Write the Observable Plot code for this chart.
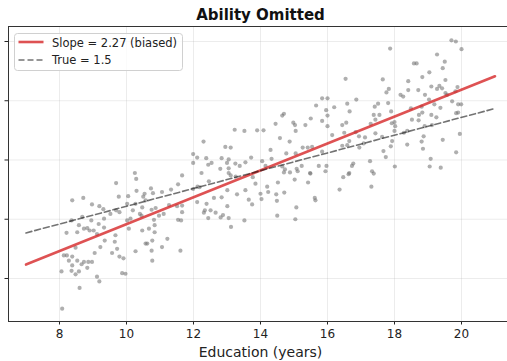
<!DOCTYPE html>
<html><head><meta charset="utf-8">
<script src="https://cdn.jsdelivr.net/npm/d3@7"></script>
<script src="https://cdn.jsdelivr.net/npm/@observablehq/plot@0.6"></script>
<style>
body{margin:0;background:#fff;font-family:"DejaVu Sans",sans-serif;}
#wrap{position:relative;width:507px;height:361px;overflow:hidden;}
#title{position:absolute;left:0;width:521px;top:6px;text-align:center;font-weight:bold;font-size:15px;color:#111;white-space:nowrap;}
#xlabel{position:absolute;left:0;width:521px;top:344px;text-align:center;font-size:14px;color:#222;white-space:nowrap;}
#legend{position:absolute;left:14px;top:33px;}
</style>
</head><body>
<div id="wrap">
  <div id="chart"></div>
  <div id="title">Ability Omitted</div>
  <div id="xlabel">Education (years)</div>
  <svg id="legend" width="170" height="39"></svg>
</div>
<script>
// ---- data ----
const eduX = [
10.25,10.29,11.66,9.69,8.38,8.71,8.97,9.19,9.31,9.77,10.05,10.30,10.02,10.19,10.54,10.50,10.73,10.79,11.06,11.33,11.54,11.99,12.12,10.57,10.27,10.40,10.75,10.87,10.45,10.12,10.82,10.97,11.11,11.27,11.51,11.66,11.66,11.54,11.63,9.79,9.52,9.69,9.33,9.17,8.95,8.83,8.90,8.36,8.68,8.58,8.21,8.53,8.73,9.02,9.12,9.33,10.02,10.07,10.47,10.67,10.84,10.84,9.67,9.65,9.35,9.22,9.05,9.57,9.72,9.79,9.91,10.27,10.57,10.62,10.77,11.22,11.06,11.61,10.75,10.77,8.13,8.28,8.38,8.48,8.53,8.66,8.73,8.86,8.97,8.83,8.38,8.36,8.48,8.58,9.12,9.19,8.60,8.06,8.08,9.87,9.97,8.22,10.47,
11.99,12.11,11.99,
16.54,15.84,16.00,15.66,15.96,16.20,16.59,14.65,14.70,14.45,14.98,15.03,15.34,15.50,15.84,16.00,16.00,16.44,16.56,15.05,16.14,16.50,13.23,13.52,13.90,14.09,14.58,14.87,12.30,12.95,13.11,12.38,12.84,13.05,13.72,14.30,14.77,15.05,15.26,15.41,15.54,15.84,16.44,16.59,16.65,12.54,12.44,12.80,13.00,13.05,13.25,13.38,13.55,14.05,14.33,14.15,14.65,14.73,15.08,15.23,15.48,15.74,15.97,16.65,12.24,13.05,
12.46,13.11,13.26,13.77,13.85,14.20,14.52,14.70,14.88,15.02,15.11,15.42,15.49,15.94,16.47,16.63,16.36,12.11,12.39,12.61,12.84,13.01,13.01,13.30,13.55,13.65,13.75,14.00,14.03,14.23,14.47,14.49,14.71,15.07,15.62,15.64,12.34,12.31,12.51,12.66,12.44,12.81,12.88,13.05,13.12,13.52,14.50,15.04,12.18,
19.70,19.83,20.00,17.87,19.27,18.58,18.66,19.50,19.44,19.04,18.83,17.65,18.41,19.52,17.83,17.76,18.41,18.71,19.10,19.27,19.34,19.42,19.52,19.57,19.88,19.82,18.91,19.03,18.18,18.26,16.86,17.81,17.51,17.41,19.72,19.90,19.99,19.37,19.19,18.49,18.81,18.83,18.73,19.10,19.25,19.84,19.90,17.90,17.55,17.38,16.66,17.29,17.43,17.92,18.02,18.00,18.52,18.72,18.90,19.12,18.38,18.28,16.84,16.94,17.12,17.43,17.63,17.93,18.00,18.87,19.44,19.95,18.38,18.81,18.85,17.08,16.95,17.67,17.89,17.74,17.27,18.01,16.77,16.73,17.33,17.38,19.08,19.05,19.38,19.84,
17.31
];
const wageY = [
37.8,36.8,37.4,36.1,33.2,33.6,32.5,32.2,31.7,33.8,33.9,34.8,32.6,31.5,34.3,33.8,35.2,34.4,34.6,35.0,35.9,35.1,35.5,33.2,32.6,30.9,31.6,31.9,30.6,30.1,29.9,30.6,30.9,32.4,32.2,32.3,31.2,29.9,29.8,31.2,30.9,31.5,30.1,29.2,29.8,28.5,28.1,29.8,30.4,29.0,27.7,27.8,28.4,28.1,27.5,28.6,29.8,28.4,28.1,28.4,29.0,27.8,27.3,26.2,26.4,25.3,24.3,24.3,25.0,23.7,23.4,24.6,25.9,25.9,26.4,26.7,25.3,24.7,24.7,23.0,23.9,23.0,23.7,25.2,23.0,22.4,22.8,22.8,22.8,21.8,22.2,21.3,20.7,21.2,20.3,19.5,18.4,21.2,14.9,20.9,20.8,23.9,32.0,
41.0,40.4,39.5,
53.7,50.4,50.4,49.2,48.4,48.9,49.5,47.5,47.8,46.1,46.3,45.9,45.9,47.0,46.6,47.5,45.7,45.9,46.3,44.9,44.2,44.6,45.1,44.9,45.0,45.0,43.7,43.1,43.1,42.2,42.1,40.3,40.3,40.1,40.4,41.7,41.1,41.1,42.1,42.1,42.2,41.4,42.4,42.5,43.2,39.5,39.2,38.5,39.5,38.6,39.4,39.0,39.6,39.8,40.2,39.0,38.9,38.4,38.5,39.0,37.8,39.0,39.0,37.8,37.8,37.8,
36.4,37.4,37.2,37.1,36.0,35.5,36.2,37.9,37.9,36.7,38.1,36.2,37.7,38.1,37.1,37.6,35.0,32.9,32.6,33.6,33.7,34.9,32.2,34.2,34.9,33.3,32.5,34.3,33.4,34.6,34.2,33.1,34.5,32.0,33.6,33.2,31.5,31.1,31.5,31.1,30.2,30.3,30.7,30.2,28.7,29.8,30.6,30.0,35.4,
60.2,60.0,58.7,58.8,57.8,56.3,56.3,56.6,55.5,54.8,54.0,53.6,53.3,53.5,52.0,51.4,51.8,51.8,52.4,52.0,52.5,52.1,51.3,51.0,52.3,51.6,51.0,50.2,51.0,50.7,50.2,49.6,49.5,49.0,49.9,49.4,49.4,48.8,49.4,48.7,49.0,48.0,47.6,47.6,47.2,47.9,48.0,48.2,47.6,47.6,48.2,46.1,46.8,46.2,45.7,46.4,46.8,46.7,45.7,45.9,44.9,44.6,44.7,44.0,43.8,44.5,43.9,43.2,44.9,44.0,43.4,44.4,42.6,43.1,41.9,42.8,42.1,41.5,42.3,40.5,39.8,38.9,39.4,39.0,38.1,37.7,40.2,38.9,38.7,41.3,
35.5
];
const lineX = [7, 21];
const biasedSlope = 2.27, biasedIntercept = 6.46;
const trueSlope = 1.5, trueIntercept = 17.19;
const xTicks = [8, 10, 12, 14, 16, 18, 20];
const yTicks = [20, 30, 40, 50, 60];
const legendLabels = ["Slope = 2.27 (biased)", "True = 1.5"];

// ---- build ----
const xDomain = [6.478, 21.373];
const yDomain = [12.74, 62.53];
const points = eduX.map((x, i) => ({x, y: wageY[i]}));
const biasedLine = lineX.map(x => ({x, y: biasedIntercept + biasedSlope * x}));
const trueLine = lineX.map(x => ({x, y: trueIntercept + trueSlope * x}));

const chart = Plot.plot({
  width: 507, height: 361,
  marginTop: 26, marginBottom: 40, marginLeft: 8, marginRight: 0,
  style: {fontFamily: "DejaVu Sans", fontSize: "12px", color: "#222", background: "transparent", overflow: "visible"},
  x: {domain: xDomain},
  y: {domain: yDomain},
  marks: [
    Plot.gridX(xTicks, {stroke: "#b0b0b0", strokeOpacity: 0.3, strokeWidth: 0.8}),
    Plot.gridY(yTicks, {stroke: "#b0b0b0", strokeOpacity: 0.3, strokeWidth: 0.8}),
    Plot.dot(points, {x: "x", y: "y", r: 2.1, fill: "#6e6e6e", fillOpacity: 0.55, stroke: null}),
    Plot.line(biasedLine, {x: "x", y: "y", stroke: "#d62728", strokeOpacity: 0.8, strokeWidth: 2.6}),
    Plot.line(trueLine, {x: "x", y: "y", stroke: "#000", strokeOpacity: 0.55, strokeWidth: 1.6, strokeDasharray: "6,3"}),
    Plot.axisX(xTicks, {tickSize: 3.5, tickPadding: 4, label: null, fontSize: 12}),
    Plot.axisY(yTicks, {tickSize: 3.5, tickFormat: () => "", label: null}),
    Plot.ruleY([yDomain[0]], {stroke: "#333", strokeWidth: 1}),
    Plot.ruleY([yDomain[1]], {stroke: "#333", strokeWidth: 1}),
    Plot.ruleX([xDomain[0]], {stroke: "#333", strokeWidth: 1})
  ]
});
document.getElementById("chart").appendChild(chart);

// legend
const lg = d3.select("#legend");
lg.append("rect").attr("x", 0.5).attr("y", 0.5).attr("width", 168).attr("height", 37)
  .attr("rx", 3).attr("fill", "rgba(255,255,255,0.8)").attr("stroke", "#d0d0d0");
lg.append("line").attr("x1", 4.5).attr("x2", 29.5).attr("y1", 9).attr("y2", 9)
  .attr("stroke", "#d62728").attr("stroke-opacity", 0.8).attr("stroke-width", 2.6);
lg.append("line").attr("x1", 4.5).attr("x2", 29.5).attr("y1", 27).attr("y2", 27)
  .attr("stroke", "#000").attr("stroke-opacity", 0.55).attr("stroke-width", 1.6).attr("stroke-dasharray", "6,3");
lg.selectAll("text.l").data(legendLabels).join("text")
  .attr("x", 38).attr("y", (d, i) => 13.7 + i * 17)
  .attr("font-family", "DejaVu Sans").attr("font-size", 11.5).attr("fill", "#222").text(d => d);
</script>
</body></html>
